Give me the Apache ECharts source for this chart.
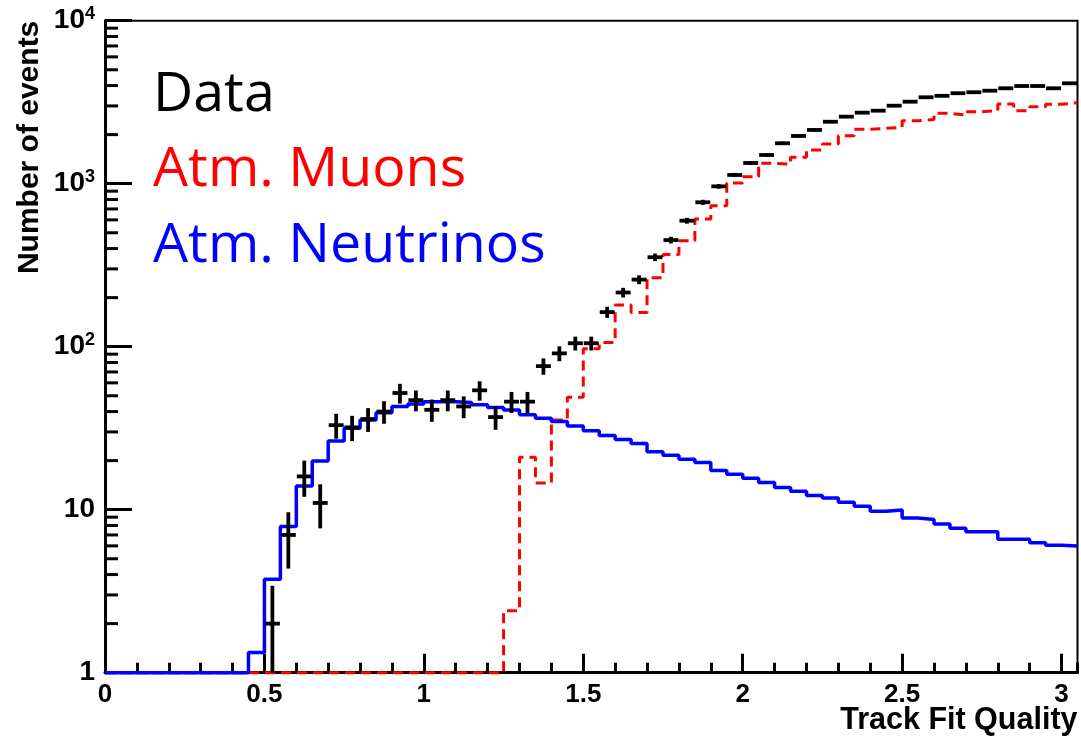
<!DOCTYPE html>
<html>
<head>
<meta charset="utf-8">
<script src="https://cdn.jsdelivr.net/npm/echarts@6/dist/echarts.min.js"></script>
<style>
html,body{margin:0;padding:0;background:#ffffff;}
#chart{width:1081px;height:737px;}
</style>
</head>
<body>
<div id="chart"></div>
<script>
// ---- data ----
const binLowEdges = [
  0.00,0.05,0.10,0.15,0.20,0.25,0.30,0.35,0.40,0.45,
  0.50,0.55,0.60,0.65,0.70,0.75,0.80,0.85,0.90,0.95,
  1.00,1.05,1.10,1.15,1.20,1.25,1.30,1.35,1.40,1.45,
  1.50,1.55,1.60,1.65,1.70,1.75,1.80,1.85,1.90,1.95,
  2.00,2.05,2.10,2.15,2.20,2.25,2.30,2.35,2.40,2.45,
  2.50,2.55,2.60,2.65,2.70,2.75,2.80,2.85,2.90,2.95,
  3.00
];
const lastBinHighEdge = 3.05;

// Atm. Neutrinos (MC), per bin
const neutrinos = [
  0,0,0,0,0,0,0,0,0,1.33,
  3.74,7.9,14.0,19.9,26.4,31.6,35.5,39.4,42.9,44.5,
  46,46,45.5,44,42.4,40.9,38.3,36.4,34.8,32.6,
  30.5,28.5,27.0,25.5,22.7,21.6,20.4,19.5,17.4,16.5,
  15.6,14.7,13.7,13.0,12.2,11.8,11.1,10.5,9.8,9.95,
  8.9,8.7,8.18,7.69,7.33,7.33,6.58,6.58,6.27,6.06,
  5.98
];

// Atm. Muons (MC), per bin
const muons = [
  0,0,0,0,0,0,0,0,0,0,
  0,0,0,0,0,0,0,0,0,0,
  0,0,0,0,0,2.4,21,14.6,35.5,49,
  97,106,180,162,265,368,447,607,733,1010,
  1105,1334,1320,1452,1610,1750,1968,2158,2188,2218,
  2436,2480,2704,2640,2766,2800,3084,2800,2966,3070,
  3141
];

// Data counts, per bin (null = empty bin)
const dataCounts = [
  null,null,null,null,null,null,null,null,null,null,
  2,7,16,11,33,32,36,40,52,47,
  41,47,43,54,37,46,46,76,91,105,
  105,163,215,258,354,451,593,769,963,1131,
  1340,1500,1770,1963,2137,2400,2578,2728,2805,3010,
  3185,3390,3460,3590,3640,3720,3850,3975,3975,3850,
  4130
];

const xTickValues = [0, 0.5, 1, 1.5, 2, 2.5, 3];
const xTickLabels = ['0', '0.5', '1', '1.5', '2', '2.5', '3'];
const yTickValues = [1, 10, 100, 1000, 10000];
const yTickBase   = ['1', '10', '10', '10', '10'];
const yTickExp    = ['', '', '2', '3', '4'];
const yMinorTickValues = [
  2,3,4,5,6,7,8,9,
  20,30,40,50,60,70,80,90,
  200,300,400,500,600,700,800,900,
  2000,3000,4000,5000,6000,7000,8000,9000
];

const seriesNames = ['Data', 'Atm. Muons', 'Atm. Neutrinos'];
const seriesColors = ['#000000', '#ff0000', '#0000ff'];

// ---- build options ----
const Y_MIN = 1, Y_MAX = 10000;
const HELV = "'Liberation Sans', Arial, Helvetica, sans-serif";

function binHigh(i) {
  return i < binLowEdges.length - 1 ? binLowEdges[i + 1] : lastBinHighEdge;
}
function stepPoints(values) {
  const pts = values.map((v, i) => [binLowEdges[i], Math.max(v, Y_MIN)]);
  pts.push([lastBinHighEdge, Math.max(values[values.length - 1], Y_MIN)]);
  return pts;
}
const dataItems = [];
dataCounts.forEach((v, i) => {
  if (v !== null) dataItems.push([binLowEdges[i], binHigh(i), v]);
});

const chart = echarts.init(document.getElementById('chart'), null, {renderer: 'canvas'});

const option = {
  backgroundColor: '#ffffff',
  animation: false,
  grid: {
    left: 105, right: 3.5, top: 20.7, bottom: 64.3,
    containLabel: false, outerBoundsMode: 'none',
    show: true, borderColor: '#000', borderWidth: 2, backgroundColor: 'transparent'
  },
  legend: {
    orient: 'vertical',
    left: 143, top: 52,
    itemWidth: 0, itemHeight: 0, itemGap: 0,
    icon: 'rect',
    selectedMode: false,
    textStyle: {fontFamily: "'Open Sans', 'Noto Sans', sans-serif", fontSize: 55.5, lineHeight: 75.5},
    data: seriesNames.map((n, i) => ({name: n, textStyle: {color: seriesColors[i]}}))
  },
  xAxis: [
    {
      type: 'value', min: 0, max: lastBinHighEdge, interval: 0.5, position: 'bottom',
      axisLine: {show: true, onZero: false, lineStyle: {color: '#000', width: 3}},
      axisTick: {show: true, inside: true, length: 19, lineStyle: {color: '#000', width: 3}},
      minorTick: {show: false},
      splitLine: {show: false},
      axisLabel: {
        show: true, showMaxLabel: false, margin: 9, color: '#000',
        fontFamily: HELV, fontWeight: 'bold', fontSize: 26,
        formatter: (v) => {
          const k = xTickValues.findIndex(t => Math.abs(t - v) < 1e-9);
          return k >= 0 ? xTickLabels[k] : '';
        }
      },
      name: 'Track Fit Quality', nameLocation: 'end', nameGap: 0,
      nameMoveOverlap: false,
      nameTextStyle: {
        align: 'right', verticalAlign: 'top', padding: [32, 0, 0, 0],
        color: '#000', fontFamily: HELV, fontWeight: 'bold', fontSize: 30.5
      }
    },
    {
      type: 'value', min: 0, max: lastBinHighEdge, interval: 0.1, position: 'bottom',
      axisLine: {show: false, onZero: false},
      axisTick: {show: true, inside: true, length: 10, lineStyle: {color: '#000', width: 3}},
      axisLabel: {show: false},
      splitLine: {show: false}
    }
  ],
  yAxis: [
    {
      type: 'log', logBase: 10, min: Y_MIN, max: Y_MAX, position: 'left',
      axisLine: {show: true, lineStyle: {color: '#000', width: 3}},
      axisTick: {show: true, inside: true, length: 27, lineStyle: {color: '#000', width: 3}},
      minorTick: {show: false},
      splitLine: {show: false},
      axisLabel: {
        show: true, margin: 10, color: '#000',
        formatter: (v) => {
          const k = yTickValues.findIndex(t => Math.abs(t - v) / t < 1e-6);
          if (k < 0) return '';
          return yTickExp[k] ? '{b|' + yTickBase[k] + '}{s|' + yTickExp[k] + '}' : '{b|' + yTickBase[k] + '}';
        },
        rich: {
          b: {fontFamily: HELV, fontWeight: 'bold', fontSize: 28, color: '#000'},
          s: {fontFamily: HELV, fontWeight: 'bold', fontSize: 18, color: '#000', padding: [0, 0, 14, 0]}
        }
      },
      name: 'Number of events', nameLocation: 'end', nameGap: 0, nameRotate: 90,
      nameMoveOverlap: false,
      nameTextStyle: {
        align: 'right', verticalAlign: 'bottom', padding: [0, 0, 60, 0],
        color: '#000', fontFamily: HELV, fontWeight: 'bold', fontSize: 30
      }
    }
  ],
  series: [
    {
      name: seriesNames[1], type: 'line', step: 'end', xAxisIndex: 0, yAxisIndex: 0,
      data: stepPoints(muons), symbol: 'none', clip: false, z: 3,
      itemStyle: {color: seriesColors[1]},
      lineStyle: {color: seriesColors[1], width: 3, type: [10, 6]}
    },
    {
      name: seriesNames[2], type: 'line', step: 'end', xAxisIndex: 0, yAxisIndex: 0,
      data: stepPoints(neutrinos), symbol: 'none', clip: false, z: 4,
      itemStyle: {color: seriesColors[2]},
      lineStyle: {color: seriesColors[2], width: 3.5}
    },
    {
      name: seriesNames[0], type: 'custom', xAxisIndex: 0, yAxisIndex: 0, z: 5,
      itemStyle: {color: seriesColors[0]},
      encode: {x: [0, 1], y: 2},
      data: dataItems,
      renderItem: function (params, api) {
        const lo = api.value(0), hi = api.value(1), v = api.value(2);
        const err = Math.sqrt(v); // Poisson error bar
        const mid = (lo + hi) / 2;
        const pL = api.coord([lo, v]);
        const pR = api.coord([hi, v]);
        const pT = api.coord([mid, Math.min(v + err, Y_MAX)]);
        const pB = api.coord([mid, Math.max(v - err, Y_MIN)]);
        const st = {stroke: '#000', lineWidth: 3.8, lineCap: 'butt'};
        return {
          type: 'group',
          children: [
            {type: 'line', shape: {x1: pL[0] + 0.5, y1: pL[1], x2: pR[0] - 0.5, y2: pR[1]}, style: st},
            {type: 'line', shape: {x1: pT[0], y1: pT[1], x2: pB[0], y2: pB[1]}, style: st}
          ]
        };
      }
    },
    {
      // minor ticks of the logarithmic y axis (2..9 of every decade)
      name: 'yMinorTicks', type: 'custom', xAxisIndex: 0, yAxisIndex: 0, z: 6,
      silent: true, clip: false,
      encode: {x: 0, y: 1},
      data: yMinorTickValues.map(v => [0, v]),
      renderItem: function (params, api) {
        const p = api.coord([api.value(0), api.value(1)]);
        return {
          type: 'line',
          shape: {x1: p[0], y1: p[1], x2: p[0] + 13, y2: p[1]},
          style: {stroke: '#000', lineWidth: 3}
        };
      }
    }
  ]
};
chart.setOption(option);
</script>
</body>
</html>
